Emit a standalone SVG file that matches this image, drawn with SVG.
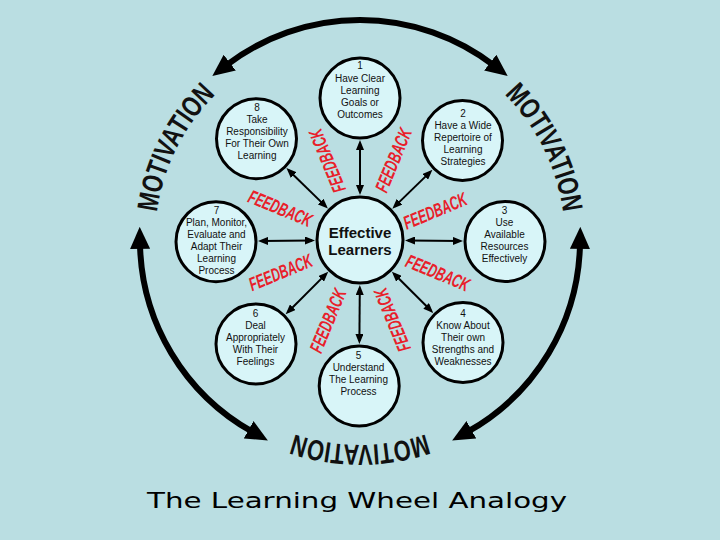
<svg xmlns="http://www.w3.org/2000/svg" width="720" height="540" viewBox="0 0 720 540">
<defs>
<style>
.node circle{fill:#d8f5f8;stroke:#000;stroke-width:3}
.nt{font-family:"Liberation Sans",Arial,sans-serif;font-size:10px;text-anchor:middle;fill:#111}
.ct{font-family:"Liberation Sans",Arial,sans-serif;font-size:15px;font-weight:bold;text-anchor:middle;fill:#111}
.spoke{stroke:#000;stroke-width:2;fill:none;marker-start:url(#sa);marker-end:url(#sa)}
.big{stroke:#000;stroke-width:6;fill:none;marker-start:url(#ba);marker-end:url(#ba)}
.fb{font-family:"Liberation Sans",Arial,sans-serif;font-size:19px;font-weight:bold;font-style:italic;fill:#e8202a;text-anchor:middle}
.mot{font-family:"Liberation Sans",Arial,sans-serif;font-size:29px;font-weight:bold;fill:#111}
.title{font-family:"DejaVu Sans","Liberation Sans",sans-serif;font-size:21px;fill:#000}
</style>
<marker id="sa" viewBox="0 0 10 8" refX="7" refY="4" markerWidth="10" markerHeight="8" markerUnits="userSpaceOnUse" orient="auto-start-reverse"><path d="M0,0 L10,4 L0,8 z" fill="#000"/></marker>
<marker id="ba" viewBox="0 0 22 20" refX="5" refY="10" markerWidth="22" markerHeight="20" markerUnits="userSpaceOnUse" orient="auto-start-reverse"><path d="M0,0 L22,10 L0,20 z" fill="#000"/></marker>
<path id="tpL" d="M156.3,216.8 A205,205 0 0 1 218.9,91.3"/>
<path id="tpR" d="M501.1,91.3 A205,205 0 0 1 563.7,216.8"/>
<path id="tpB" d="M430.1,432.6 A205,205 0 0 1 289.9,432.6"/>
</defs>
<rect width="720" height="540" fill="#badee2"/>

<g id="motivation-arrows">
<path class="big" d="M225.8,65.7 A220,220 0 0 1 494.2,65.7"/>
<path class="big" d="M140,243.8 A220,220 0 0 0 253,432.2"/>
<path class="big" d="M580,243.8 A220,220 0 0 1 467,432.2"/>
</g>

<g id="motivation-labels">
<text class="mot"><textPath href="#tpL" startOffset="50%" text-anchor="middle" textLength="134" lengthAdjust="spacingAndGlyphs">MOTIVATION</textPath></text>
<text class="mot"><textPath href="#tpR" startOffset="50%" text-anchor="middle" textLength="134" lengthAdjust="spacingAndGlyphs">MOTIVATION</textPath></text>
<text class="mot"><textPath href="#tpB" startOffset="50%" text-anchor="middle" textLength="134" lengthAdjust="spacingAndGlyphs">MOTIVATION</textPath></text>
</g>

<g id="connectors">
<line class="spoke" x1="360" y1="192" x2="360" y2="143"/>
<line class="spoke" x1="394.5" y1="206.6" x2="430.3" y2="171.9"/>
<line class="spoke" x1="408" y1="240.5" x2="460" y2="241"/>
<line class="spoke" x1="394" y1="273.8" x2="431.1" y2="310.8"/>
<line class="spoke" x1="359.8" y1="288" x2="359.4" y2="341"/>
<line class="spoke" x1="326.1" y1="273.9" x2="287.8" y2="312.2"/>
<line class="spoke" x1="312" y1="240.5" x2="261" y2="241"/>
<line class="spoke" x1="325.7" y1="206.4" x2="288.6" y2="170.2"/>
</g>

<g id="feedback-labels">
<text class="fb" transform="translate(327,161) rotate(-112.5)" dy="7" textLength="67" lengthAdjust="spacingAndGlyphs">FEEDBACK</text>
<text class="fb" transform="translate(393,160) rotate(-67.5)" dy="7" textLength="67" lengthAdjust="spacingAndGlyphs">FEEDBACK</text>
<text class="fb" transform="translate(435,210.5) rotate(-22.5)" dy="7" textLength="67" lengthAdjust="spacingAndGlyphs">FEEDBACK</text>
<text class="fb" transform="translate(438,272.5) rotate(22.5)" dy="7" textLength="67" lengthAdjust="spacingAndGlyphs">FEEDBACK</text>
<text class="fb" transform="translate(392,320) rotate(-112.5)" dy="7" textLength="67" lengthAdjust="spacingAndGlyphs">FEEDBACK</text>
<text class="fb" transform="translate(327.5,320.5) rotate(-67.5)" dy="7" textLength="67" lengthAdjust="spacingAndGlyphs">FEEDBACK</text>
<text class="fb" transform="translate(280.5,272) rotate(-22.5)" dy="7" textLength="67" lengthAdjust="spacingAndGlyphs">FEEDBACK</text>
<text class="fb" transform="translate(280.5,208) rotate(22.5)" dy="7" textLength="67" lengthAdjust="spacingAndGlyphs">FEEDBACK</text>
</g>

<g id="node-center" class="node">
<circle cx="360" cy="240" r="43"/>
<text class="ct" x="360" y="238.3">Effective</text>
<text class="ct" x="360" y="255">Learners</text>
</g>

<g id="node-1" class="node">
<circle cx="360" cy="98" r="40"/>
<text class="nt" x="360" y="69">1</text>
<text class="nt" x="360" y="81.5">Have Clear</text>
<text class="nt" x="360" y="93.5">Learning</text>
<text class="nt" x="360" y="105.5">Goals or</text>
<text class="nt" x="360" y="117.5">Outcomes</text>
</g>

<g id="node-2" class="node">
<circle cx="462.5" cy="140.5" r="40"/>
<text class="nt" x="463" y="116.5">2</text>
<text class="nt" x="463" y="128.5">Have a Wide</text>
<text class="nt" x="463" y="140.5">Repertoire of</text>
<text class="nt" x="463" y="152.5">Learning</text>
<text class="nt" x="463" y="164.5">Strategies</text>
</g>

<g id="node-3" class="node">
<circle cx="505" cy="241.5" r="40"/>
<text class="nt" x="504.5" y="214">3</text>
<text class="nt" x="504.5" y="226">Use</text>
<text class="nt" x="504.5" y="238">Available</text>
<text class="nt" x="504.5" y="250">Resources</text>
<text class="nt" x="504.5" y="262">Effectively</text>
</g>

<g id="node-4" class="node">
<circle cx="463" cy="342.5" r="40"/>
<text class="nt" x="463" y="317">4</text>
<text class="nt" x="463" y="329">Know About</text>
<text class="nt" x="463" y="341">Their own</text>
<text class="nt" x="463" y="353">Strengths and</text>
<text class="nt" x="463" y="365">Weaknesses</text>
</g>

<g id="node-5" class="node">
<circle cx="359.2" cy="386" r="40"/>
<text class="nt" x="358.5" y="358.5">5</text>
<text class="nt" x="358.5" y="370.5">Understand</text>
<text class="nt" x="358.5" y="382.5">The Learning</text>
<text class="nt" x="358.5" y="394.5">Process</text>
</g>

<g id="node-6" class="node">
<circle cx="256" cy="344" r="40"/>
<text class="nt" x="255.5" y="316.5">6</text>
<text class="nt" x="255.5" y="328.5">Deal</text>
<text class="nt" x="255.5" y="340.5">Appropriately</text>
<text class="nt" x="255.5" y="352.5">With Their</text>
<text class="nt" x="255.5" y="364.5">Feelings</text>
</g>

<g id="node-7" class="node">
<circle cx="216" cy="241.7" r="40"/>
<text class="nt" x="216.5" y="213.5">7</text>
<text class="nt" x="216.5" y="225.5">Plan, Monitor,</text>
<text class="nt" x="216.5" y="237.5">Evaluate and</text>
<text class="nt" x="216.5" y="249.5">Adapt Their</text>
<text class="nt" x="216.5" y="261.5">Learning</text>
<text class="nt" x="216.5" y="273.5">Process</text>
</g>

<g id="node-8" class="node">
<circle cx="256.5" cy="138.7" r="40"/>
<text class="nt" x="257" y="110.5">8</text>
<text class="nt" x="257" y="122.5">Take</text>
<text class="nt" x="257" y="134.5">Responsibility</text>
<text class="nt" x="257" y="146.5">For Their Own</text>
<text class="nt" x="257" y="158.5">Learning</text>
</g>

<text class="title" x="147" y="508" textLength="420" lengthAdjust="spacingAndGlyphs">The Learning Wheel Analogy</text>
</svg>
